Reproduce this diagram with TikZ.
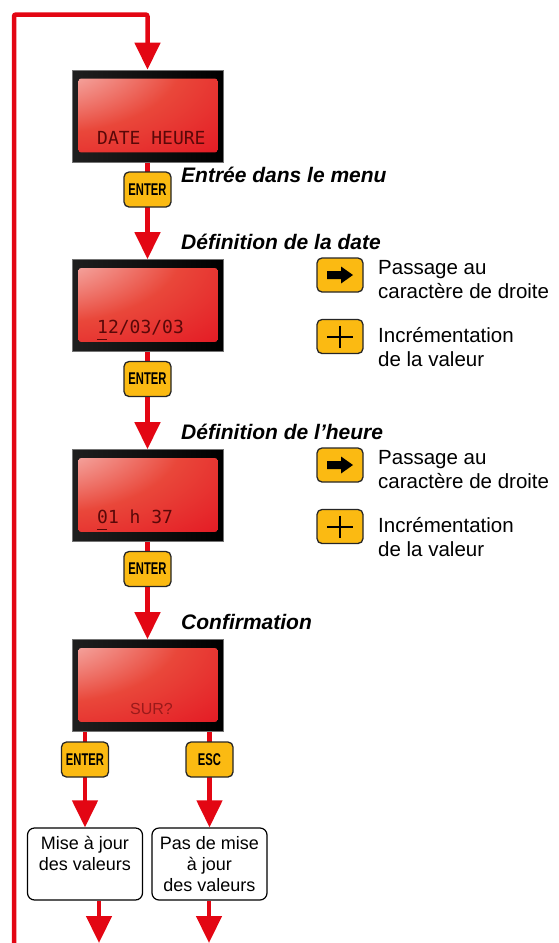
\documentclass[tikz,border=0pt]{standalone}
\usepackage{graphicx}
\usepackage{fontspec}
\setmainfont{Liberation Sans}
\newfontfamily\lcdfont{DejaVu Sans Mono}
\usetikzlibrary{arrows.meta}
\definecolor{lred}{HTML}{E30613}
\definecolor{lcdred}{HTML}{E20A1C}
\definecolor{lcdmid}{HTML}{E9473A}
\definecolor{btn}{HTML}{FBBA12}
\definecolor{lcdtxt}{HTML}{5A0808}
\definecolor{surtxt}{HTML}{9A1A1A}
\pgfdeclareradialshading{lcdshade}{\pgfpoint{-50bp}{50bp}}{color(0bp)=(white); color(20bp)=(lcdmid!42!white); color(48bp)=(lcdmid); color(86bp)=(lcdred); color(170bp)=(lcdred)}
\tikzset{
  flow/.style={draw=lred, line width=4.5pt, -{Triangle[length=27pt,width=25pt]}},
  flowline/.style={draw=lred, line width=4.5pt},
  lcd/.style={draw=black!55, line width=0.6pt, left color=black!88, right color=black, minimum width=151pt, minimum height=92pt, inner sep=0pt},
  lcdtext/.style={anchor=base west, inner sep=0pt, text=lcdtxt, font=\lcdfont\fontsize{18}{18}\selectfont},
  key/.style={draw=black!85, line width=1.3pt, fill=btn, rounded corners=5pt, minimum width=47pt, minimum height=35pt, inner sep=0pt, font=\bfseries\fontsize{17}{17}\selectfont},
  legkey/.style={key, minimum width=46pt, minimum height=34pt},
  steplabel/.style={anchor=base west, inner sep=0pt, font=\bfseries\itshape\fontsize{21}{24}\selectfont},
  legtext/.style={anchor=base west, inner sep=0pt, align=left, font=\fontsize{20.5}{24}\selectfont},
  result/.style={draw=black, line width=1.2pt, rounded corners=7pt, minimum width=115pt, minimum height=72pt, inner sep=0pt, align=center, font=\fontsize{18}{21}\selectfont},
}
\begin{document}
\begin{tikzpicture}[x=1pt,y=-1pt]
\useasboundingbox (0,0) rectangle (559,943);
% displays
\node[lcd] (d1) at (147.5,116) {};
\node[lcd] (d2) at (147.5,305.5) {};
\node[lcd] (d3) at (147.5,495.5) {};
\node[lcd] (d4) at (147.5,685.5) {};
% result boxes
\node[result] (m1) at (85,864) {Mise à jour\\des valeurs\\~};
\node[result] (p1) at (209.5,864) {Pas de mise\\à jour\\des valeurs};
% coordinates for loop
\coordinate (lb) at (14,945.2);
\coordinate (lt) at (14,14.5);
\coordinate (br) at (209,945.2);
\coordinate (e1) at (99,943);
\coordinate (e2) at (209,943);
% connectors
\draw[flow, rounded corners=2pt] (lb) -- (lt) -| (d1.north);
\draw[flowline] (lb) -- (br);
\draw[flow] (d1.south) -- (d2.north);
\draw[flow] (d2.south) -- (d3.north);
\draw[flow] (d3.south) -- (d4.north);
\draw[flow] (d4.south -| m1.north) -- (m1.north);
\draw[flow] (d4.south -| p1.north) -- (p1.north);
\draw[flow] (m1.south -| e1) -- (e1);
\draw[flow] (p1.south -| e2) -- (e2);
% redraw displays on top of lines
\foreach \d in {d1,d2,d3,d4}{
  \node[lcd] at (\d) {};
  \shade[shading=lcdshade, rounded corners=2pt] ([xshift=7pt,yshift=-9pt]\d.north west) rectangle ([xshift=-6pt,yshift=10pt]\d.south east);
}
% display texts
\node[lcdtext] (t1) at (97,144) {DATE HEURE};
\node[lcdtext] (t2) at (97,333) {12/03/03};
\node[lcdtext] (t3) at (97,523) {01 h 37};
\draw[lcdtxt, line width=1.5pt] (97,339.5) -- (107,339.5);
\draw[lcdtxt, line width=1.5pt] (97,529.5) -- (107,529.5);
\node[anchor=base, inner sep=0pt, text=surtxt, font=\fontsize{16}{16}\selectfont] (t4) at (151.5,714) {SUR?};
% keys on the flow
\node[key] (b1) at (147.5,189.5) {\scalebox{0.66}[1]{ENTER}};
\node[key] (b2) at (147.5,379) {\scalebox{0.66}[1]{ENTER}};
\node[key] (b3) at (147.5,569) {\scalebox{0.66}[1]{ENTER}};
\node[key] (b4) at (85,759.5) {\scalebox{0.66}[1]{ENTER}};
\node[key] (b5) at (209.5,759.5) {\scalebox{0.66}[1]{ESC}};
% step labels
\node[steplabel] (l1) at (181,182) {Entrée dans le menu};
\node[steplabel] (l2) at (181,249) {Définition de la date};
\node[steplabel] (l3) at (181,439) {Définition de l’heure};
\node[steplabel] (l4) at (181,629) {Confirmation};
% legends
\foreach \k/\yy in {1/275, 2/465}{
  \node[legkey] (la\k) at (340,\yy) {};
  \fill[black, shift={(la\k.center)}] (-13,-4) -- (1,-4) -- (1,-8.5) -- (13,0) -- (1,8.5) -- (1,4) -- (-13,4) -- cycle;
  \node[legtext] (ta\k) at (378,\yy+23) {Passage au\\caractère de droite};
  \node[legkey] (lp\k) at (340,\yy+61.5) {};
  \draw[black, line width=2pt, shift={(lp\k.center)}] (-13,0) -- (13,0) (0,-11) -- (0,11);
  \node[legtext] (tp\k) at (378,\yy+91) {Incrémentation\\de la valeur};
}
\end{tikzpicture}
\end{document}
